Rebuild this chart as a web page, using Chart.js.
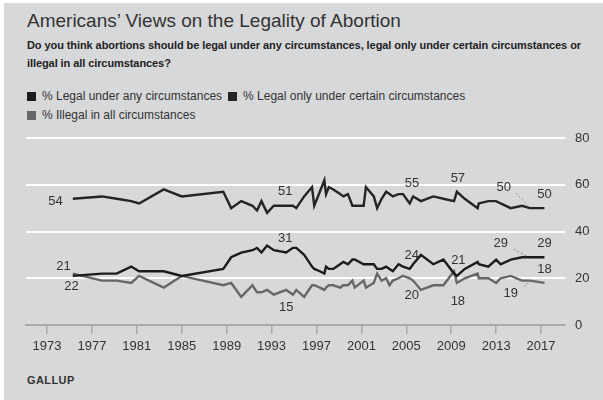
<!DOCTYPE html>
<html>
<head>
<meta charset="utf-8">
<script src="https://cdn.jsdelivr.net/npm/chart.js@4"></script>
<style>
  html, body {
    margin: 0;
    padding: 0;
    background: #ffffff;
    width: 603px;
    height: 400px;
    overflow: hidden;
    font-family: "Liberation Sans", Arial, sans-serif;
  }
  #panel {
    position: absolute;
    left: 4px;
    top: 3px;
    width: 599px;
    height: 397px;
    background: #d7d8da;
  }
  #chart {
    position: absolute;
    left: 0;
    top: 0;
  }
  .title {
    position: absolute;
    left: 27px;
    top: 10px;
    font-size: 19px;
    line-height: 22px;
    color: #333;
    white-space: nowrap;
  }
  .question {
    position: absolute;
    left: 27px;
    top: 36px;
    font-size: 11px;
    line-height: 18px;
    font-weight: bold;
    color: #222;
    letter-spacing: -0.08px;
    white-space: nowrap;
  }
  .legend {
    position: absolute;
    left: 27px;
    top: 87px;
    font-size: 12px;
    line-height: 19px;
    color: #333;
  }
  .legend-item {
    display: inline-block;
    margin-right: 6px;
    white-space: nowrap;
  }
  .legend-item i {
    display: inline-block;
    width: 9px;
    height: 9px;
    margin-right: 6px;
    vertical-align: -1px;
  }
  .source {
    position: absolute;
    left: 27px;
    top: 374px;
    font-size: 11px;
    font-weight: bold;
    letter-spacing: 0.4px;
    color: #333;
  }
</style>
</head>
<body>
<div id="panel"></div>
<div class="title">Americans’ Views on the Legality of Abortion</div>
<div class="question">Do you think abortions should be legal under any circumstances, legal only under certain circumstances or<br>illegal in all circumstances?</div>
<div class="legend" id="legend"></div>
<div class="source">GALLUP</div>
<canvas id="chart" width="603" height="400"></canvas>

<script>
// Survey dates (fractional year of each poll)
const surveyDates = [
  1975.3, 1977.9, 1979.2, 1980.5, 1981.2, 1983.4, 1985.0, 1988.7, 1989.4, 1990.3,
  1991.3, 1991.7, 1992.1, 1992.6, 1993.2, 1994.3, 1994.9, 1995.2, 1995.9, 1996.6,
  1996.8, 1997.3, 1997.7, 1997.85, 1998.1, 1998.5, 1999.1, 1999.4, 1999.8, 2000.2,
  2000.4, 2001.2, 2001.4, 2002.1, 2002.4, 2002.8, 2003.2, 2003.5, 2003.8, 2004.3,
  2004.7, 2005.3, 2005.6, 2006.3, 2007.4, 2008.3, 2009.25, 2009.5, 2010.2, 2011.35,
  2011.45, 2012.3, 2013.0, 2013.4, 2014.3, 2015.3, 2016.0, 2017.3
];

const legalAny = [
  21, 22, 22, 25, 23, 23, 21, 24, 29, 31,
  32, 33, 31, 34, 32, 31, 33, 33, 30, 25,
  24, 23, 22, 25, 24, 24, 26, 27, 26, 28,
  28, 26, 26, 26, 24, 24, 25, 24, 23, 26,
  25, 24, 26, 30, 26, 28, 22, 21, 24, 27,
  26, 25, 28, 26, 28, 29, 29, 29
];

const legalCertain = [
  54, 55, 54, 53, 52, 58, 55, 57, 50, 53,
  51, 49, 53, 48, 51, 51, 51, 50, 55, 59,
  51, 57, 62, 56, 59, 58, 56, 55, 56, 51,
  51, 51, 59, 55, 50, 54, 57, 56, 55, 56,
  56, 52, 55, 53, 55, 54, 53, 57, 54, 50,
  52, 53, 53, 52, 50, 51, 50, 50
];

const illegalAll = [
  22, 19, 19, 18, 21, 16, 21, 17, 18, 12,
  17, 14, 14, 15, 13, 15, 13, 15, 12, 17,
  17, 16, 15, 16, 17, 17, 16, 17, 17, 19,
  16, 19, 16, 18, 22, 19, 20, 17, 19, 20,
  21, 20, 19, 15, 17, 17, 23, 18, 20, 22,
  20, 20, 18, 20, 21, 19, 19, 18
];

const seriesNames = [
  "% Legal under any circumstances",
  "% Legal only under certain circumstances",
  "% Illegal in all circumstances"
];
const seriesColors = ["#1c1c1c", "#242424", "#676767"];

const yearTicks = [1973, 1977, 1981, 1985, 1989, 1993, 1997, 2001, 2005, 2009, 2013, 2017];
const valueTicks = [0, 20, 40, 60, 80];

const FONT = '"Liberation Sans", Arial, sans-serif';

// Legend rows: first two on one line, third below
const legendEl = document.getElementById("legend");
seriesNames.forEach((name, i) => {
  const item = document.createElement("span");
  item.className = "legend-item";
  item.innerHTML = `<i style="background:${seriesColors[i]}"></i>${name}`;
  legendEl.appendChild(item);
  if (i === 1) legendEl.appendChild(document.createElement("br"));
});

// Value callouts: which series, which poll, and where the number sits
const callouts = [
  { set: 1, at: 1975.3, dx: -10, dy: 3, align: "right" },
  { set: 0, at: 1975.3, dx: -2, dy: -9, align: "right" },
  { set: 2, at: 1975.3, dx: 6, dy: 13, align: "right" },
  { set: 1, at: 1994.3, dx: -1, dy: -14 },
  { set: 0, at: 1994.3, dx: -1, dy: -14 },
  { set: 2, at: 1994.3, dx: 0, dy: 17 },
  { set: 1, at: 2005.6, dx: -1, dy: -13 },
  { set: 0, at: 2005.3, dx: 2, dy: -13 },
  { set: 2, at: 2005.3, dx: 2, dy: 17 },
  { set: 1, at: 2009.5, dx: 1, dy: -13 },
  { set: 0, at: 2009.5, dx: 1.5, dy: -15 },
  { set: 2, at: 2009.5, dx: 1, dy: 18 },
  { set: 1, at: 2016.0, dx: -26, dy: -21, leader: [-14, -15, -2, -3] },
  { set: 0, at: 2016.0, dx: -29, dy: -14, leader: [-16, -8, -3, -1] },
  { set: 2, at: 2016.0, dx: -19, dy: 13, leader: [-6, 6, 0, 1] },
  { set: 1, at: 2017.3, dx: 0, dy: -13.5 },
  { set: 0, at: 2017.3, dx: 0, dy: -13.5 },
  { set: 2, at: 2017.3, dx: 0, dy: -14 }
];

const calloutPlugin = {
  id: "callouts",
  afterDatasetsDraw(chart) {
    const ctx = chart.ctx;
    const xs = chart.scales.x;
    const ys = chart.scales.y;
    ctx.save();
    ctx.font = `13px ${FONT}`;
    ctx.fillStyle = "#333";
    ctx.textBaseline = "middle";
    callouts.forEach(c => {
      const idx = surveyDates.indexOf(c.at);
      const value = chart.data.datasets[c.set].data[idx].y;
      const px = xs.getPixelForValue(c.at);
      const py = ys.getPixelForValue(value);
      if (c.leader) {
        ctx.save();
        ctx.strokeStyle = "#8c8c8c";
        ctx.lineWidth = 1;
        ctx.setLineDash([2, 2]);
        ctx.beginPath();
        ctx.moveTo(px + c.leader[0], py + c.leader[1]);
        ctx.lineTo(px + c.leader[2], py + c.leader[3]);
        ctx.stroke();
        ctx.restore();
      }
      ctx.textAlign = c.align || "center";
      ctx.fillText(String(value), px + c.dx, py + c.dy);
    });
    ctx.restore();
  }
};

const seriesValues = [legalAny, legalCertain, illegalAll];

new Chart(document.getElementById("chart"), {
  type: "line",
  data: {
    datasets: seriesValues.map((values, i) => ({
      label: seriesNames[i],
      data: values.map((v, k) => ({ x: surveyDates[k], y: v })),
      borderColor: seriesColors[i],
      borderWidth: 2.4,
      borderJoinStyle: "miter",
      pointRadius: 0,
      tension: 0,
      fill: false
    }))
  },
  options: {
    responsive: false,
    animation: false,
    devicePixelRatio: 1,
    layout: { padding: { left: 26, top: 138, right: 0, bottom: 45 } },
    plugins: {
      legend: { display: false },
      tooltip: { enabled: false }
    },
    scales: {
      x: {
        type: "linear",
        min: 1971.13,
        max: 2019.13,
        afterBuildTicks: s => { s.ticks = yearTicks.map(v => ({ value: v })); },
        afterFit: s => { s.height = 30; },
        grid: {
          drawOnChartArea: false,
          drawTicks: true,
          tickLength: 9,
          color: "#a9a9a9",
          lineWidth: 1.5
        },
        border: { display: true, color: "#a9a9a9", width: 2 },
        ticks: {
          padding: 5,
          color: "#333",
          autoSkip: false,
          maxRotation: 0,
          font: { size: 13, family: FONT },
          callback: v => String(v)
        }
      },
      y: {
        position: "right",
        min: 0,
        max: 80,
        afterBuildTicks: s => { s.ticks = valueTicks.map(v => ({ value: v })); },
        afterFit: s => { s.width = 38; },
        grid: {
          drawTicks: false,
          lineWidth: 2,
          color: c => (c.tick && c.tick.value === 0 ? "rgba(0,0,0,0)" : "#ffffff")
        },
        border: { display: false },
        ticks: {
          padding: 10,
          color: "#333",
          font: { size: 13, family: FONT }
        }
      }
    }
  },
  plugins: [calloutPlugin]
});
</script>
</body>
</html>
